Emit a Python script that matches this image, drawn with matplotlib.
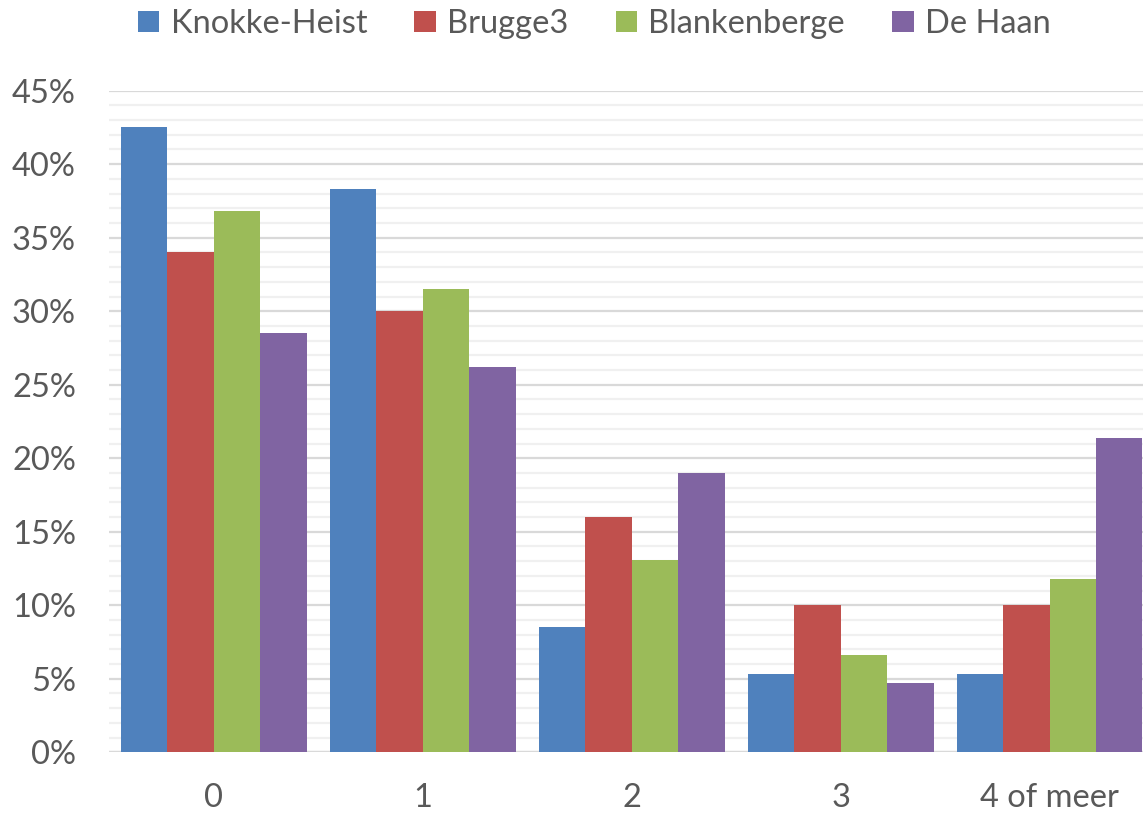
#!/usr/bin/env python3

import matplotlib.pyplot as plt
from matplotlib.ticker import MultipleLocator, FuncFormatter
import numpy as np

# Aandeel per categorie, in procent
categories = ["0", "1", "2", "3", "4 of meer"]
knokke_heist = [42.5, 38.3, 8.5, 5.3, 5.3]
brugge3 = [34.0, 30.0, 16.0, 10.0, 10.0]
blankenberge = [36.8, 31.5, 13.1, 6.6, 11.8]
de_haan = [28.5, 26.2, 19.0, 4.7, 21.4]

series_names = ["Knokke-Heist", "Brugge3", "Blankenberge", "De Haan"]
colors = ["#4F81BD", "#C0504D", "#9BBB59", "#8064A2"]


def main():
    plt.rcParams["font.family"] = ["Lato", "DejaVu Sans"]
    fig = plt.figure(figsize=(11.43, 8.14), dpi=100)
    ax = fig.add_axes([0.0956, 0.0758, 0.914, 0.8128])

    x = np.arange(len(categories))
    w = 0.2225
    data = [knokke_heist, brugge3, blankenberge, de_haan]
    for i, (vals, name, col) in enumerate(zip(data, series_names, colors)):
        ax.bar(x + (i - 1.5) * w, vals, w, color=col, label=name, zorder=3)

    ax.set_xlim(-0.5, len(categories) - 0.5)
    ax.set_ylim(0, 45)
    ax.yaxis.set_major_locator(MultipleLocator(5))
    ax.yaxis.set_minor_locator(MultipleLocator(1))
    ax.yaxis.set_major_formatter(FuncFormatter(lambda v, p: "%d%%" % v))
    ax.grid(axis="y", which="major", color="#d9d9d9", linewidth=1.6, zorder=1)
    ax.grid(axis="y", which="minor", color="#f0f0f0", linewidth=1.6, zorder=0)
    ax.set_axisbelow(True)

    for s in ax.spines.values():
        s.set_visible(False)
    ax.axhline(0, color="#d9d9d9", linewidth=1.6, zorder=2)

    ax.set_xticks(x)
    ax.set_xticklabels(categories)
    ax.tick_params(axis="both", which="both", length=0, labelsize=23.5,
                   labelcolor="#595959")
    ax.tick_params(axis="x", pad=22)
    ax.tick_params(axis="y", pad=24)

    fig.legend(loc="upper center", bbox_to_anchor=(0.52, 1.025), ncol=4,
               frameon=False, fontsize=23.5, handlelength=0.65, handleheight=0.65,
               handletextpad=0.35, columnspacing=1.45, labelcolor="#595959")

    fig.savefig("out.png")
    plt.close(fig)


if __name__ == "__main__":
    main()
